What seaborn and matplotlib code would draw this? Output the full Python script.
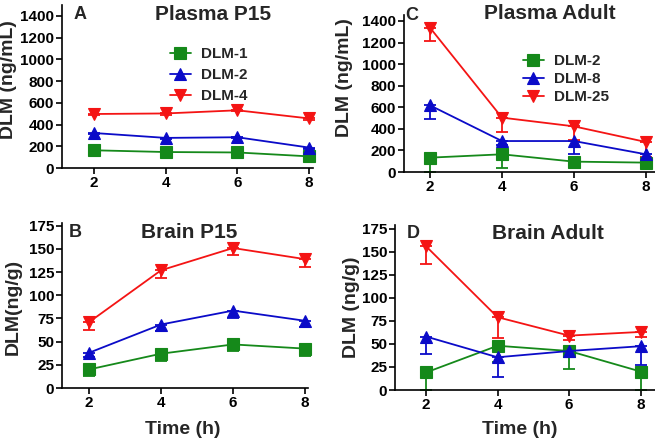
import numpy as np
import pandas as pd
import matplotlib
matplotlib.use("Agg")
import matplotlib.pyplot as plt
import seaborn as sns

# ---------------- data ----------------
time_h = [2, 4, 6, 8]

# Panel A: Plasma P15 (ng/mL)
a_names = ["DLM-1", "DLM-2", "DLM-4"]
a_dlm1 = [163, 147, 143, 107]
a_dlm2 = [322, 277, 283, 188]
a_dlm4 = [497, 502, 531, 456]
a_dlm1_err = [12, 10, 10, 10]
a_dlm2_err = [12, 10, 10, 10]
a_dlm4_err = [12, 10, 10, 10]

# Panel C: Plasma Adult (ng/mL)
c_names = ["DLM-2", "DLM-8", "DLM-25"]
c_dlm2 = [133, 164, 96, 87]
c_dlm8 = [618, 287, 287, 164]
c_dlm25 = [1338, 504, 423, 278]
c_dlm2_err = [133, 130, 30, 30]
c_dlm8_err = [127, 37, 120, 118]
c_dlm25_err = [125, 134, 127, 139]

# Panel B: Brain P15 (ng/g)
b_dlm1 = [20, 37, 47, 42.5]
b_dlm2 = [38, 68.5, 83.5, 72.5]
b_dlm4 = [71, 127, 151, 139]
b_dlm1_err = [7, 7.5, 7, 8]
b_dlm2_err = [4.5, 7, 7.5, 7]
b_dlm4_err = [8.5, 8, 8, 9]

# Panel D: Brain Adult (ng/g)
d_dlm2 = [19, 48, 42.3, 20]
d_dlm8 = [58, 35.5, 42.3, 47.5]
d_dlm25 = [156, 79, 59, 63]
d_dlm2_err = [19, 18, 19.5, 20]
d_dlm8_err = [19, 21, 5, 20]
d_dlm25_err = [19, 23, 5, 5]

plasma_ticks = [0, 200, 400, 600, 800, 1000, 1200, 1400]
brain_ticks = [0, 25, 50, 75, 100, 125, 150, 175]

# ---------------- style ----------------
sns.set_style("ticks")
plt.rcParams["font.family"] = ["Liberation Sans", "DejaVu Sans"]
plt.rcParams["font.weight"] = "bold"
plt.rcParams["axes.labelweight"] = "bold"

GREEN = "#15891a"
BLUE = "#0b0bc8"
RED = "#f41414"
colors = [GREEN, BLUE, RED]
markers = ["s", "^", "v"]

W, H = 655, 446
fig = plt.figure(figsize=(W / 100, H / 100), dpi=100)


def px_axes(left, top, right, bottom):
    return fig.add_axes([left / W, 1 - bottom / H, (right - left) / W, (bottom - top) / H])


def draw_panel(ax, names, series, errs, xlim, ylim, yticks):
    for name, vals, err, col, mk in zip(names, series, errs, colors, markers):
        ax.errorbar(time_h, vals, yerr=[err, [0] * len(err)], fmt="none",
                    ecolor=col, elinewidth=1.3, capsize=4, capthick=1.3,
                    zorder=2, clip_on=False)
        df = pd.DataFrame({"t": time_h, "v": vals})
        sns.lineplot(data=df, x="t", y="v", ax=ax, color=col, marker=mk,
                     markersize=8, markeredgecolor=col, markeredgewidth=0.8,
                     linewidth=1.3, label=name, zorder=3, clip_on=False)
    ax.set_xlim(*xlim)
    ax.set_ylim(*ylim)
    ax.set_xticks(time_h)
    ax.set_yticks(yticks)
    ax.set_xlabel("")
    ax.set_ylabel("")
    for s in ["top", "right"]:
        ax.spines[s].set_visible(False)
    for s in ["left", "bottom"]:
        ax.spines[s].set_linewidth(1.2)
        ax.spines[s].set_color("black")
    ax.tick_params(axis="both", width=1.2, length=4, pad=1.5, labelsize=11, colors="black")
    for lab in ax.get_xticklabels() + ax.get_yticklabels():
        lab.set_fontweight("bold")
    if ax.get_legend() is not None:
        ax.get_legend().remove()


# Panel A
axA = px_axes(62, 5, 313, 168)
draw_panel(axA, a_names, [a_dlm1, a_dlm2, a_dlm4], [a_dlm1_err, a_dlm2_err, a_dlm4_err],
           (1.107, 8.11), (0, 1500), plasma_ticks)
# Panel C
axC = px_axes(404, 15, 655, 172)
draw_panel(axC, c_names, [c_dlm2, c_dlm8, c_dlm25], [c_dlm2_err, c_dlm8_err, c_dlm25_err],
           (1.28, 8.25), (0, 1455), plasma_ticks)
# Panel B
axB = px_axes(62, 223, 308, 388)
draw_panel(axB, a_names, [b_dlm1, b_dlm2, b_dlm4], [b_dlm1_err, b_dlm2_err, b_dlm4_err],
           (1.25, 8.08), (0, 178), brain_ticks)
# Panel D
axD = px_axes(395, 225, 655, 390)
draw_panel(axD, c_names, [d_dlm2, d_dlm8, d_dlm25], [d_dlm2_err, d_dlm8_err, d_dlm25_err],
           (1.134, 8.40), (0, 179), brain_ticks)

# titles and letters
tkw = dict(ha="center", va="center", fontsize=15, fontweight="bold", clip_on=False)
axA.text(0.60, 0.94, "Plasma P15", transform=axA.transAxes, **tkw)
axC.text(0.58, 1.01, "Plasma Adult", transform=axC.transAxes, **tkw)
axB.text(0.515, 0.94, "Brain P15", transform=axB.transAxes, **tkw)
axD.text(0.59, 0.95, "Brain Adult", transform=axD.transAxes, **tkw)

lkw = dict(ha="center", va="center", fontsize=13, fontweight="bold")
axA.text(0.072, 0.94, "A", transform=axA.transAxes, **lkw)
axC.text(0.032, 1.0, "C", transform=axC.transAxes, **lkw)
axB.text(0.055, 0.94, "B", transform=axB.transAxes, **lkw)
axD.text(0.071, 0.95, "D", transform=axD.transAxes, **lkw)

# axis labels
axA.set_ylabel("DLM (ng/mL)", fontsize=14, fontweight="bold")
axA.yaxis.set_label_coords(-0.18, 0.54)
axC.set_ylabel("DLM (ng/mL)", fontsize=14, fontweight="bold")
axC.yaxis.set_label_coords(-0.203, 0.60)
axB.set_ylabel("DLM(ng/g)", fontsize=14, fontweight="bold")
axB.yaxis.set_label_coords(-0.163, 0.49)
axD.set_ylabel("DLM (ng/g)", fontsize=14, fontweight="bold")
axD.yaxis.set_label_coords(-0.135, 0.50)
axB.set_xlabel("Time (h)", fontsize=14, fontweight="bold")
axB.xaxis.set_label_coords(0.49, -0.20)
axD.set_xlabel("Time (h)", fontsize=14, fontweight="bold")
axD.xaxis.set_label_coords(0.48, -0.19)

# legends
for ax, anchor, spacing in [(axA, (0.43, 0.74), 0.45), (axC, (0.474, 0.75), 0.25)]:
    lines = [l for l in ax.get_lines() if not l.get_label().startswith("_")]
    ax.legend(lines, [l.get_label() for l in lines], loc="upper left",
              bbox_to_anchor=anchor, frameon=False, borderpad=0, borderaxespad=0,
              handlelength=1.35, handletextpad=0.7, labelspacing=spacing,
              prop={"weight": "bold", "size": 11})

fig.savefig("out.png", dpi=100)
